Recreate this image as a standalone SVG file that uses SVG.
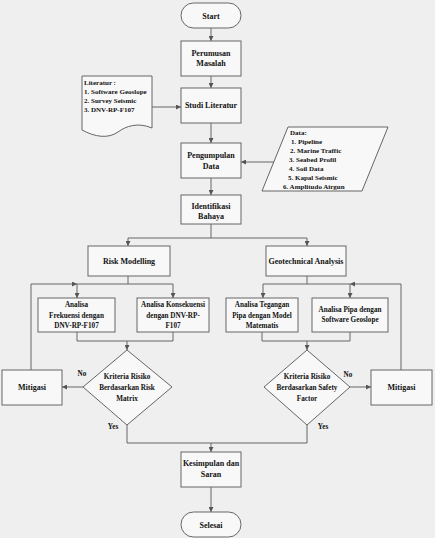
<svg xmlns="http://www.w3.org/2000/svg" width="435" height="538" viewBox="0 0 435 538">
<defs>
<marker id="ah" viewBox="0 0 10 10" refX="10" refY="5" markerWidth="5" markerHeight="5" orient="auto" markerUnits="userSpaceOnUse">
<path d="M0,0 L10,5 L0,10 Z" fill="#555"/>
</marker>
<style>
.box{fill:#f8f8f8;stroke:#666;stroke-width:1}
.ln{fill:none;stroke:#666;stroke-width:1}
.ar{fill:none;stroke:#666;stroke-width:1;marker-end:url(#ah)}
text{font-family:"Liberation Serif","Times New Roman",serif;font-weight:bold;font-size:8px;fill:#111;text-anchor:middle}
.sm{font-size:7.2px}
.lt{text-anchor:start;font-size:7px}
</style>
</defs>
<rect x="0" y="0" width="435" height="538" fill="#efefef"/>

<g id="connectors">
<path class="ar" d="M211,28 V41"/>
<path class="ar" d="M211,76 V88"/>
<path class="ar" d="M152,107 H181"/>
<path class="ar" d="M211,123 V143"/>
<path class="ar" d="M274,162 H241"/>
<path class="ar" d="M211,178 V195"/>
<path class="ln" d="M211,224 V238 M128,238 H307"/>
<path class="ar" d="M128,238 V246"/>
<path class="ar" d="M307,238 V246"/>
<path class="ln" d="M128,276 V284 M77,284 H173"/>
<path class="ar" d="M77,284 V298"/>
<path class="ar" d="M173,284 V298"/>
<path class="ar" d="M31,370 V284 H77"/>
<path class="ln" d="M77,332 V341 H173 V332"/>
<path class="ar" d="M127,341 V350"/>
<path class="ar" d="M83,387 H62"/>
<path class="ln" d="M307,276 V284 M263,284 H350"/>
<path class="ar" d="M263,284 V298"/>
<path class="ar" d="M350,284 V298"/>
<path class="ar" d="M401,370 V284 H350"/>
<path class="ln" d="M262,332 V341 H350 V332"/>
<path class="ar" d="M307,341 V350"/>
<path class="ar" d="M350,387 H371"/>
<path class="ln" d="M127,425 V443 H211 M307,425 V443 H211"/>
<path class="ar" d="M211,443 V452"/>
<path class="ar" d="M211,487 V512"/>
<text class="sm" x="82" y="376">No</text>
<text class="sm" x="348" y="377">No</text>
<text class="sm" x="113" y="429">Yes</text>
<text class="sm" x="323" y="429">Yes</text>
</g>

<g id="start">
<rect class="box" x="181" y="3" width="60" height="25" rx="12.5"/>
<text x="211" y="18.5">Start</text>
</g>
<g id="perumusan">
<rect class="box" x="181" y="41" width="60" height="35"/>
<text x="211" y="56">Perumusan</text>
<text x="211" y="66">Masalah</text>
</g>
<g id="studi">
<rect class="box" x="181" y="88" width="60" height="35"/>
<text x="211" y="108">Studi Literatur</text>
</g>
<g id="literatur">
<path class="box" d="M82,76 H152 V128 C138,122 126,126 118,132 C108,139 95,137 82,130 Z"/>
<text class="lt" x="84" y="85">Literatur :</text>
<text class="lt" x="84" y="94">1. Software Geoslope</text>
<text class="lt" x="84" y="103">2. Survey Seismic</text>
<text class="lt" x="84" y="112">3. DNV-RP-F107</text>
</g>
<g id="pengumpulan">
<rect class="box" x="181" y="143" width="60" height="35"/>
<text x="211" y="158">Pengumpulan</text>
<text x="211" y="169">Data</text>
</g>
<g id="data">
<path class="box" d="M288,127 H388 L362,191 H262 Z"/>
<text class="lt" x="290" y="135">Data:</text>
<text class="lt" x="291" y="144">1. Pipeline</text>
<text class="lt" x="290" y="153">2. Marine Traffic</text>
<text class="lt" x="289" y="162">3. Seabed Profil</text>
<text class="lt" x="289" y="171">4. Soil Data</text>
<text class="lt" x="288" y="180">5. Kapal Seismic</text>
<text class="lt" x="283" y="189">6. Amplitudo Airgun</text>
</g>
<g id="identifikasi">
<rect class="box" x="181" y="195" width="60" height="29"/>
<text x="211" y="209">Identifikasi</text>
<text x="211" y="219">Bahaya</text>
</g>
<g id="risk-modelling">
<rect class="box" x="88" y="246" width="82" height="30"/>
<text x="129" y="264">Risk Modelling</text>
</g>
<g id="geotech">
<rect class="box" x="266" y="246" width="80" height="30"/>
<text x="306" y="264">Geotechnical Analysis</text>
</g>
<g id="frekuensi">
<rect class="box" x="38" y="298" width="77" height="34"/>
<text class="sm" x="76.5" y="307">Analisa</text>
<text class="sm" x="76.5" y="317.5">Frekuensi dengan</text>
<text class="sm" x="76.5" y="328">DNV-RP-F107</text>
</g>
<g id="konsekuensi">
<rect class="box" x="137" y="298" width="72" height="34"/>
<text class="sm" x="173" y="307">Analisa Konsekuensi</text>
<text class="sm" x="173" y="317.5">dengan DNV-RP-</text>
<text class="sm" x="173" y="328">F107</text>
</g>
<g id="tegangan">
<rect class="box" x="226" y="298" width="72" height="34"/>
<text class="sm" x="262" y="307">Analisa Tegangan</text>
<text class="sm" x="262" y="317.5">Pipa dengan Model</text>
<text class="sm" x="262" y="328">Matematis</text>
</g>
<g id="pipa">
<rect class="box" x="312" y="298" width="76" height="34"/>
<text class="sm" x="350" y="312">Analisa Pipa dengan</text>
<text class="sm" x="350" y="322">Software Geoslope</text>
</g>
<g id="kriteria-risk">
<path class="box" d="M127,350 L172,387 L127,425 L83,387 Z"/>
<text class="sm" x="127" y="379">Kriteria Risiko</text>
<text class="sm" x="127" y="390">Berdasarkan Risk</text>
<text class="sm" x="127" y="401">Matrix</text>
</g>
<g id="kriteria-safety">
<path class="box" d="M307,350 L350,387 L307,425 L264,387 Z"/>
<text class="sm" x="307" y="379">Kriteria Risiko</text>
<text class="sm" x="307" y="390">Berdasarkan Safety</text>
<text class="sm" x="307" y="401">Factor</text>
</g>
<g id="mitigasi-left">
<rect class="box" x="2" y="370" width="60" height="35"/>
<text x="32" y="390">Mitigasi</text>
</g>
<g id="mitigasi-right">
<rect class="box" x="371" y="370" width="61" height="35"/>
<text x="401.5" y="390">Mitigasi</text>
</g>
<g id="kesimpulan">
<rect class="box" x="181" y="452" width="60" height="35"/>
<text x="211" y="466">Kesimpulan dan</text>
<text x="211" y="477">Saran</text>
</g>
<g id="selesai">
<rect class="box" x="181" y="512" width="60" height="25" rx="12.5"/>
<text x="211" y="527.5">Selesai</text>
</g>
</svg>
